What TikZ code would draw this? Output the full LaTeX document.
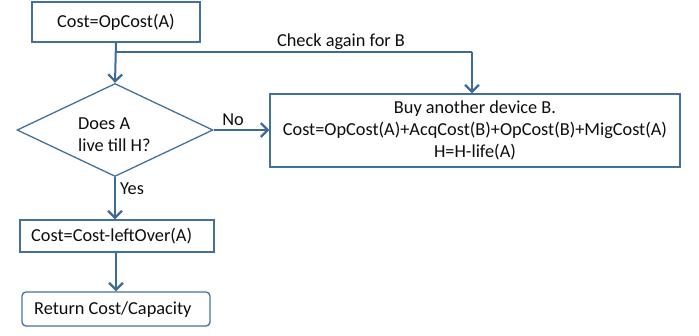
\documentclass[tikz,border=0pt]{standalone}
\usepackage{fontspec}
\setmainfont{Carlito}
\usetikzlibrary{shapes.geometric,arrows.meta}
\definecolor{bord}{HTML}{41719C}
\definecolor{arr}{HTML}{3D6A98}
\definecolor{txt}{HTML}{0D0D0D}
\tikzset{
  every node/.style={font=\fontsize{18.3}{22}\selectfont, text=txt},
  boxnode/.style={draw=bord, line width=1.3pt, inner sep=0pt},
  conn/.style={draw=arr, line width=2pt, -{Straight Barb[length=7pt,width=14pt,line width=2.2pt]}},
  plainline/.style={draw=arr, line width=1.5pt},
  lbl/.style={inner sep=1pt}
}
\begin{document}
\begin{tikzpicture}[x=1pt,y=-1pt]
\useasboundingbox (0,0) rectangle (699,335);
% boxes
\node[boxnode, minimum width=168pt, minimum height=40pt] (start) at (116,22) {Cost=OpCost(A)};
\node[boxnode, diamond, aspect=2.1, minimum width=196pt, minimum height=93pt, inner sep=0pt] (dec) at (115,130) {};
\node[align=left, anchor=west, inner sep=0pt] (dectext) at (78,135) {Does A\\live till H?};
\node[boxnode, minimum width=410pt, minimum height=73pt, align=center] (buy) at (475,130.5) {Buy another device B.\\Cost=OpCost(A)+AcqCost(B)+OpCost(B)+MigCost(A)\\H=H-life(A)};
\node[boxnode, minimum width=194pt, minimum height=32pt] (left) at (117,236) {};
\node[anchor=west, inner sep=0pt] (lefttext) at (31,236) {Cost=Cost-leftOver(A)};
\node[boxnode, rounded corners=4pt, minimum width=188pt, minimum height=34pt] (ret) at (116,309) {};
\node[anchor=west, inner sep=0pt] (rettext) at (34,310) {Return Cost/Capacity};
% connectors
\coordinate (split) at (116,52);
\coordinate (corner) at (472,52);
\draw[conn] (start.south) -- (dec.north);
\draw[plainline] (split) -- (corner);
\draw[conn] (corner) -- (corner |- buy.north);
\node[lbl, anchor=south] (check) at (341,51) {Check again for B};
\draw[conn] (dec.east) -- (buy.west |- dec.east);
\node[lbl] (no) at (233,120) {No};
\draw[conn] (dec.south) -- (left.north -| dec.south);
\node[lbl] (yes) at (132,189) {Yes};
\draw[conn] (left.south -| start.south) -- (ret.north -| start.south);
\end{tikzpicture}
\end{document}
